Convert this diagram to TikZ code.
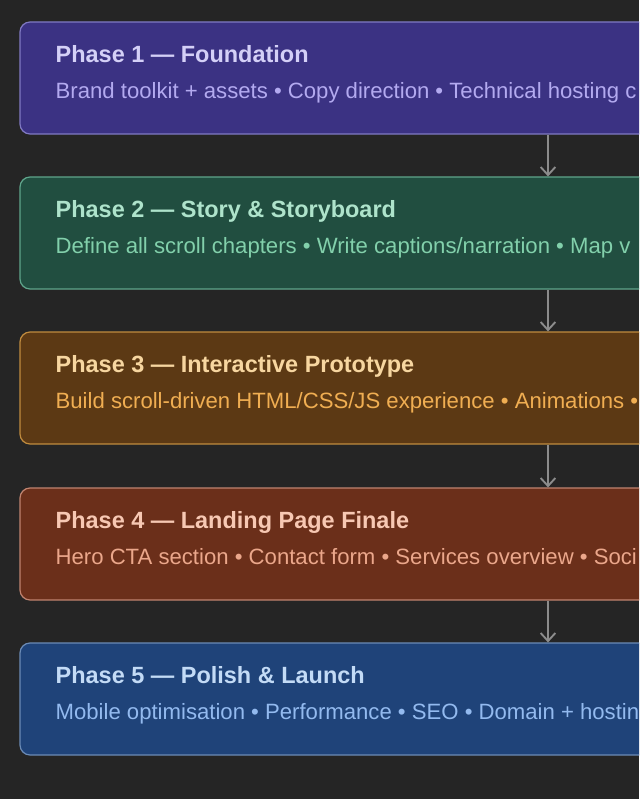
\documentclass[tikz,border=0pt]{standalone}
\usepackage{fontspec}
\setmainfont{Liberation Sans}
\usepackage{tikz}
\usetikzlibrary{arrows.meta,positioning,calc}
\definecolor{bgdark}{HTML}{252525}
\definecolor{arrowgrey}{HTML}{8C8C8C}
% phase colours: fill, border, title, text
\definecolor{ponefill}{HTML}{3B3283}
\definecolor{poneline}{HTML}{8079C2}
\definecolor{ponetitle}{HTML}{D4D0F7}
\definecolor{ponetext}{HTML}{B3AAF0}
\definecolor{ptwofill}{HTML}{214E40}
\definecolor{ptwoline}{HTML}{5FA58B}
\definecolor{ptwotitle}{HTML}{AEE3CB}
\definecolor{ptwotext}{HTML}{82D0AB}
\definecolor{pthreefill}{HTML}{5C3914}
\definecolor{pthreeline}{HTML}{C08B3E}
\definecolor{pthreetitle}{HTML}{F7D6A0}
\definecolor{pthreetext}{HTML}{F0AE52}
\definecolor{pfourfill}{HTML}{6B2F1A}
\definecolor{pfourline}{HTML}{C0836F}
\definecolor{pfourtitle}{HTML}{F7C8B3}
\definecolor{pfourtext}{HTML}{EBA78B}
\definecolor{pfivefill}{HTML}{1F4379}
\definecolor{pfiveline}{HTML}{6B8BB6}
\definecolor{pfivetitle}{HTML}{C3DBF6}
\definecolor{pfivetext}{HTML}{93BAEF}
\tikzset{
  phasebox/.style={
    rectangle, rounded corners=7.5pt, draw=#1line, fill=#1fill,
    minimum width=792pt, minimum height=84pt, line width=0.9pt
  },
  phasetitle/.style={
    anchor=base west, inner sep=0pt, color=#1title,
    font=\fontsize{17.6pt}{20pt}\selectfont\bfseries
  },
  phasetext/.style={
    anchor=base west, inner sep=0pt, color=#1text,
    font=\fontsize{16.6pt}{19pt}\selectfont
  },
  arrowstyle/.style={
    -{Straight Barb[length=6pt,width=11pt]}, line width=1.4pt, color=arrowgrey
  },
}

\begin{document}
\begin{tikzpicture}[x=0.75pt, y=-0.75pt]

  \useasboundingbox (0,0) rectangle (639,799);
  \fill[bgdark] (0,0) rectangle (639,799);
  \clip (0,0) rectangle (639,799);

  \node[phasebox=pone]   (p1) at (548,78)  {};
  \node[phasebox=ptwo]   (p2) at (548,233) {};
  \node[phasebox=pthree] (p3) at (548,388) {};
  \node[phasebox=pfour]  (p4) at (548,544) {};
  \node[phasebox=pfive]  (p5) at (548,699) {};

  \node[phasetitle=pone] (t1) at ($(p1.north west)+(36,41)$) {Phase 1 — Foundation};
  \node[phasetext=pone]  (d1) at ($(p1.north west)+(36,77)$)
    {Brand toolkit + assets • Copy direction • Technical hosting c};

  \node[phasetitle=ptwo] (t2) at ($(p2.north west)+(36,41)$) {Phase 2 — Story \& Storyboard};
  \node[phasetext=ptwo]  (d2) at ($(p2.north west)+(36,77)$)
    {Define all scroll chapters • Write captions/narration • Map v};

  \node[phasetitle=pthree] (t3) at ($(p3.north west)+(36,41)$) {Phase 3 — Interactive Prototype};
  \node[phasetext=pthree]  (d3) at ($(p3.north west)+(36,77)$)
    {Build scroll-driven HTML/CSS/JS experience • Animations •};

  \node[phasetitle=pfour] (t4) at ($(p4.north west)+(36,41)$) {Phase 4 — Landing Page Finale};
  \node[phasetext=pfour]  (d4) at ($(p4.north west)+(36,77)$)
    {Hero CTA section • Contact form • Services overview • Soci};

  \node[phasetitle=pfive] (t5) at ($(p5.north west)+(36,41)$) {Phase 5 — Polish \& Launch};
  \node[phasetext=pfive]  (d5) at ($(p5.north west)+(36,77)$)
    {Mobile optimisation • Performance • SEO • Domain + hostin};

  \draw[arrowstyle] (p1) -- (p2);
  \draw[arrowstyle] (p2) -- (p3);
  \draw[arrowstyle] (p3) -- (p4);
  \draw[arrowstyle] (p4) -- (p5);
\end{tikzpicture}
\end{document}
